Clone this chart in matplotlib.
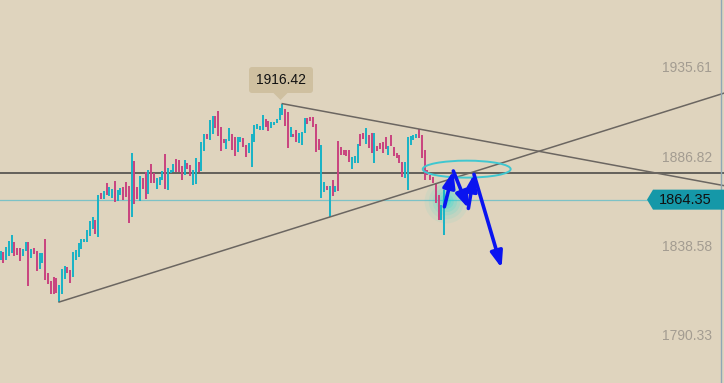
import numpy as np
import matplotlib
matplotlib.use("Agg")
import matplotlib.pyplot as plt
from matplotlib.patches import Ellipse, Polygon, FancyBboxPatch
from matplotlib.transforms import Affine2D, blended_transform_factory

# bar highs / lows (one bar per session)
highs = [1836.7, 1836.1, 1838.8, 1841.9, 1845.2, 1841.5, 1838.0, 1838.0, 1837.4, 1841.4,
         1841.4, 1837.6, 1838.0, 1836.5, 1835.6, 1835.6, 1843.0, 1824.4, 1820.2, 1822.6,
         1821.8, 1817.9, 1826.7, 1828.4, 1827.7, 1826.4, 1836.1, 1836.9, 1841.0, 1843.0,
         1843.0, 1847.9, 1852.9, 1854.8, 1853.3, 1866.9, 1868.1, 1869.0, 1873.5, 1871.4,
         1870.0, 1874.5, 1869.6, 1870.5, 1871.2, 1874.1, 1871.9, 1889.7, 1885.5, 1871.4,
         1877.2, 1876.3, 1879.2, 1880.4, 1883.7, 1878.6, 1876.3, 1876.5, 1879.9, 1889.1,
         1881.5, 1880.4, 1883.7, 1886.4, 1885.9, 1882.6, 1885.9, 1884.2, 1883.2, 1880.4,
         1886.9, 1884.8, 1895.8, 1900.0, 1900.0, 1907.6, 1909.7, 1909.7, 1912.4, 1903.9,
         1897.1, 1897.1, 1903.2, 1900.1, 1898.3, 1898.5, 1898.3, 1897.6, 1894.0, 1894.9,
         1900.0, 1904.9, 1905.6, 1904.5, 1910.3, 1908.1, 1906.9, 1906.6, 1906.6, 1908.1,
         1913.9, 1916.42, 1913.5, 1911.9, 1903.8, 1900.1, 1902.1, 1900.7, 1901.1, 1908.5,
         1908.5, 1909.2, 1909.2, 1905.4, 1897.3, 1894.0, 1874.1, 1871.8, 1871.8, 1874.9,
         1871.8, 1896.2, 1892.8, 1891.3, 1891.3, 1891.3, 1887.7, 1888.0, 1894.5, 1900.0,
         1900.3, 1903.1, 1899.4, 1900.3, 1900.3, 1893.5, 1894.9, 1895.8, 1898.5, 1893.5,
         1899.4, 1893.1, 1889.5, 1888.6, 1884.9, 1884.9, 1898.5, 1898.9, 1899.4, 1899.8,
         1902.5, 1899.4, 1891.3, 1880.4, 1877.7, 1876.8, 1873.2, 1866.9, 1861.5, 1869.6]
lows = [1831.6, 1829.8, 1831.6, 1833.9, 1835.6, 1833.9, 1834.3, 1831.2, 1833.9, 1836.7,
        1817.7, 1832.9, 1835.0, 1825.8, 1826.9, 1830.2, 1820.9, 1818.8, 1813.3, 1813.3,
        1813.7, 1808.8, 1813.3, 1821.3, 1824.7, 1819.3, 1822.2, 1831.6, 1833.4, 1837.7,
        1841.4, 1841.4, 1844.8, 1848.4, 1845.6, 1844.3, 1864.5, 1864.5, 1866.9, 1866.5,
        1865.1, 1863.2, 1863.8, 1866.9, 1864.2, 1865.8, 1851.9, 1855.1, 1862.2, 1864.7,
        1863.8, 1870.1, 1864.9, 1867.4, 1873.2, 1873.5, 1870.1, 1872.3, 1875.0, 1870.1,
        1869.6, 1879.0, 1879.4, 1879.4, 1879.2, 1875.0, 1877.7, 1881.0, 1877.2, 1872.3,
        1872.8, 1879.4, 1879.9, 1890.7, 1897.3, 1896.7, 1900.0, 1903.2, 1898.9, 1890.7,
        1895.3, 1891.8, 1896.3, 1891.3, 1888.2, 1890.4, 1895.6, 1893.1, 1887.7, 1889.8,
        1882.2, 1895.8, 1902.8, 1902.1, 1902.1, 1903.6, 1901.8, 1903.4, 1904.7, 1905.8,
        1907.6, 1910.1, 1904.5, 1892.5, 1898.5, 1898.2, 1895.8, 1894.9, 1894.0, 1900.7,
        1905.4, 1907.0, 1903.9, 1890.4, 1891.3, 1865.4, 1868.3, 1869.6, 1854.9, 1866.3,
        1868.5, 1868.9, 1888.6, 1888.6, 1888.0, 1884.6, 1880.8, 1884.1, 1884.4, 1893.6,
        1897.1, 1894.5, 1892.2, 1889.8, 1884.1, 1890.9, 1891.7, 1889.5, 1891.7, 1888.6,
        1893.5, 1888.0, 1886.8, 1884.1, 1876.8, 1875.9, 1869.6, 1894.0, 1896.7, 1897.6,
        1897.6, 1886.8, 1875.0, 1877.7, 1875.0, 1873.2, 1862.4, 1853.3, 1853.3, 1845.2]
# C = up bar (cyan), P = down bar (pink)
colours = ("CPCCCPPPCCPCPPCCPPPPPCCCPPCCCCCCCCPCPCPCCPCCPPPCPPCPPCPPCCCPCCCPPPCPPCCPCCPCCPPPPCCPPCCPPCCCCCCPPCCCCCPPCPPCCCPPPPPCCPCPCPPPPPCCCPPCPPCPPPPCPPPPPCCCCCPPPPPPPPC")

axis_prices = [1935.61, 1886.82, 1838.58, 1790.33]
last_price = 1864.35
peak_bar, peak_price = 101, 1916.42
level_price = 1879.0
support_x, support_y = [21, 262], [1808.8, 1923.4]
resist_x, resist_y = [101, 262], [1916.42, 1871.2]
zone_x, zone_y, zone_w, zone_h = 167.1, 1880.9, 31.5, 9.2
path_x = [159.1, 162.3, 167.7, 169.7, 179.6]
path_y = [1860.5, 1879.9, 1859.6, 1878.1, 1827.3]

W, H = 724, 383
bg = "#dfd4be"
up_c, dn_c = "#17b3c6", "#c9437f"

fig = plt.figure(figsize=(W / 100, H / 100), dpi=100, facecolor=bg)
ax = fig.add_axes([0, 0, 1, 1], facecolor=bg)
ax.set_xlim(-0.5 / 2.79, 723.5 / 2.79)
ax.set_ylim(1764.88, 1972.66)
ax.axis("off")
px = Affine2D().scale(1 / W, -1 / H).translate(0, 1) + ax.transAxes
tr = blended_transform_factory(ax.transAxes, ax.transData)
font = "Liberation Sans"

x = np.arange(len(highs))
cols = [up_c if c == "C" else dn_c for c in colours]
ax.vlines(x, lows, highs, colors=cols, lw=1.4, zorder=3)

# levels
ax.axhline(level_price, color="#5a5753", lw=1.3, zorder=2)
ax.plot([0, 647 / W], [last_price, last_price], transform=tr, color="#7cc2c6", lw=0.9, zorder=2)
ax.plot(support_x, support_y, color="#6b6661", lw=1.1, zorder=4)
ax.plot(resist_x, resist_y, color="#6b6661", lw=1.1, zorder=4)

# glow on the last bar
for s, a in zip([1000, 650, 400, 230, 110, 40], [0.06, 0.08, 0.1, 0.12, 0.15, 0.2]):
    ax.scatter([159.5], [1863.6], s=s, color="#00dede", alpha=a, lw=0, zorder=2)

ax.add_patch(Ellipse((zone_x, zone_y), zone_w, zone_h, fill=False,
                     ec="#3fc7d0", lw=1.4, zorder=5))

for i in range(len(path_x) - 1):
    ax.annotate("", xy=(path_x[i + 1], path_y[i + 1]), xytext=(path_x[i], path_y[i]),
                arrowprops=dict(arrowstyle="-|>,head_length=0.8,head_width=0.3",
                                mutation_scale=12, color="#0a14f0", lw=2.6,
                                shrinkA=0, shrinkB=0), zorder=6)

# right axis
ax.plot([721, 721], [0, H], transform=px, color="#8ea7b6", lw=1, zorder=6)
for p in axis_prices:
    ax.text(712 / W, p, f"{p:.2f}", transform=tr, ha="right", va="center",
            color="#a39c91", fontsize=10, family=font)

# last price tag
h = 10 * 0.5425
tag = [(647 / W, last_price), (653 / W, last_price + h), (1, last_price + h),
       (1, last_price - h), (653 / W, last_price - h)]
ax.add_patch(Polygon(tag, closed=True, transform=tr, fc="#1598a8", ec="none", zorder=7))
ax.text(685 / W, last_price, f"{last_price:.2f}", transform=tr, ha="center", va="center",
        color="#111111", fontsize=10.5, family=font, zorder=8)

# peak callout
ax.add_patch(FancyBboxPatch((249, 67), 64, 26, boxstyle="round,pad=0,rounding_size=3",
                            transform=px, fc="#cfc0a0", ec="none", zorder=7))
ax.add_patch(Polygon([(273, 92.5), (288, 92.5), (280.5, 100)], closed=True,
                     transform=px, fc="#cfc0a0", ec="none", zorder=7))
ax.text(281, 80, f"{peak_price:.2f}", transform=px, ha="center", va="center",
        color="#111111", fontsize=10, family=font, zorder=8)

fig.savefig("out.png", dpi=100, facecolor=bg)
